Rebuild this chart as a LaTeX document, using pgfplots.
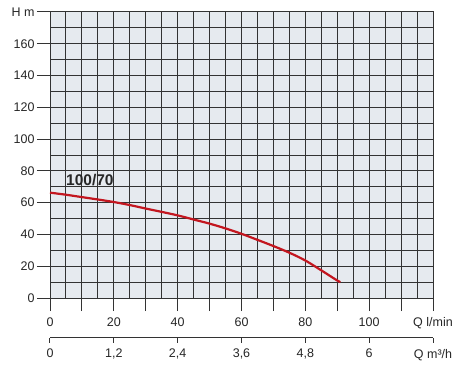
\documentclass[border=0pt]{standalone}
\usepackage{fontspec}
\setmainfont{Liberation Sans}
\usepackage{pgfplots}
\pgfplotsset{compat=1.18}
\definecolor{gridc}{HTML}{333333}
\definecolor{bgc}{HTML}{E6EAEF}
\definecolor{curvec}{HTML}{C3161F}
\begin{document}
\begin{tikzpicture}
\useasboundingbox (0,0) rectangle (468pt,370pt);
\begin{axis}[
 at={(50pt,72pt)}, anchor=south west,
 scale only axis, width=383pt, height=286pt,
 xmin=0,xmax=120,ymin=0,ymax=180,
 axis background/.style={fill=bgc},
 xtick={0,10,...,120},
 xticklabels={0,,20,,40,,60,,80,,100,,Q l/min},
 minor xtick={5,15,...,115},
 ytick={0,20,...,180},
 yticklabels={0,20,40,60,80,100,120,140,160,H m},
 minor ytick={10,30,...,170},
 grid=both,
 grid style={gridc, line width=1pt},
 minor grid style={gridc, line width=1pt},
 major grid style={gridc, line width=1pt},
 axis line style={gridc, line width=1pt},
 tick style={gridc, line width=1pt},
 tick align=outside, major tick length=13pt, minor tick length=0pt,
 xtick pos=left, ytick pos=left,
 tick label style={font=\fontsize{12.5}{14}\selectfont, text=black!85},
 xticklabel style={yshift=-3pt},
 yticklabel style={xshift=1pt},
 clip=false,
]
\addplot[curvec, line width=2.2pt, smooth] coordinates {
(0,66.3) (5,65) (10,63.5) (15,62) (20,60.4) (25,58.5) (30,56.3) (35,54.2)
(40,52) (45,49.4) (50,46.8) (55,43.8) (60,40.4) (65,36.6) (70,32.7)
(75,28.5) (80,23.6) (85,17.4) (90,11) (91,10)
};
\node[font=\bfseries\fontsize{15.5}{17}\selectfont, text=black!85] at (axis cs:12.5,74.5) {100/70};
\end{axis}
\begin{axis}[
 at={(50pt,32.3pt)}, anchor=south west,
 scale only axis, width=383pt, height=10pt,
 xmin=0,xmax=7.2,ymin=0,ymax=1,
 axis x line*=bottom, hide y axis,
 xtick={0,1.2,2.4,3.6,4.8,6,7.2},
 xticklabels={0,{1,2},{2,4},{3,6},{4,8},6,Q m³/h},
 axis line style={gridc, line width=1pt},
 tick style={gridc, line width=1pt},
 tick align=outside, major tick length=5pt,
 tick label style={font=\fontsize{12.5}{14}\selectfont, text=black!85},
 xticklabel style={yshift=-3pt},
]
\end{axis}
\end{tikzpicture}
\end{document}
